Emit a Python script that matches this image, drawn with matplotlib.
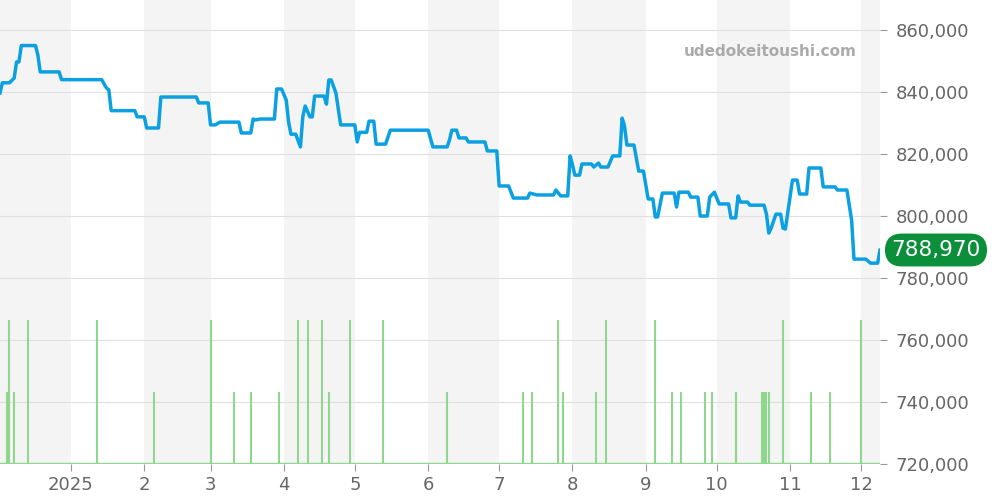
import matplotlib
matplotlib.use("Agg")
import matplotlib.pyplot as plt
import numpy as np
import datetime as dt

start = dt.date(2024, 12, 2)
price_days = [0,1,4,6,7,8,9,15,16,17,25,26,43,45,46,47,57,58,61,62,67,68,83,84,88,89,91,93,101,102,106,107,108,110,116,117,119,121,122,123,125,127,128,129,131,132,133,137,138,139,140,142,144,150,151,152,155,156,158,159,163,165,181,183,189,190,191,193,194,197,198,205,206,210,211,215,217,223,224,227,234,235,237,240,241,242,243,245,246,250,251,253,254,257,259,262,263,264,265,268,270,272,274,276,277,278,280,285,286,287,291,292,295,296,299,300,302,304,308,309,311,312,313,316,317,323,324,325,326,328,330,331,332,335,337,338,341,342,347,348,353,354,358,360,361,366,368,371,372]
price_vals = [839.7,843,843,844.5,849.7,849.7,855,855,852,846.5,846.5,844,844,841.3,840.7,834,834,832,832,828.4,828.4,838.4,838.4,836.5,836.5,829.4,829.4,830.3,830.3,826.8,826.8,831.3,831,831.3,831.3,841,841,837.4,830.3,826.4,826.4,822.3,832,835.5,832,832,838.7,838.7,836.1,843.9,843.9,839.7,829.4,829.4,823.9,827,827,830.6,830.6,823.2,823.2,827.7,827.7,822.3,822.3,824.5,827.7,827.7,825.2,825.2,823.9,823.9,821,821,809.7,809.7,805.8,805.8,807.4,806.8,806.8,808.4,806.5,806.5,819.4,816.5,813.2,813.2,816.8,816.8,815.8,817.1,815.8,815.8,819.4,819.4,831.6,829,822.9,822.9,814.5,814.5,805.5,805.5,799.7,799.7,807.4,807.4,802.9,807.7,807.7,806.1,806.1,800,800,806.1,807.7,803.9,803.9,799.4,799.4,806.5,804.5,804.5,803.5,803.5,800.6,794.5,796.1,800.6,800.6,796.1,795.8,811.6,811.6,807.1,807.1,815.5,815.5,809.4,809.4,808.4,808.4,798.7,786.1,786.1,784.8,784.8,788.97]
vol_days_2 = [4,12,41,89,126,130,136,148,162,236,256,277,331,364]
vol_days_1 = [3,6,65,99,106,118,139,189,221,225,238,252,284,288,298,301,311,322,323,324,325,343,351]
last_label = "788,970"

fig = plt.figure(figsize=(10,5), dpi=100)
ax = fig.add_axes([0, 0.072, 0.88, 0.928])
d = lambda n: start + dt.timedelta(days=n)
xmin, xmax = dt.date(2024,12,2), dt.date(2025,12,9)

for m0, m1 in [((2024,11,1),(2025,1,1)),((2025,2,1),(2025,3,1)),((2025,4,1),(2025,5,1)),((2025,6,1),(2025,7,1)),((2025,8,1),(2025,9,1)),((2025,10,1),(2025,11,1)),((2025,12,1),(2026,1,1))]:
    ax.axvspan(dt.date(*m0), dt.date(*m1), color="#f4f4f4", zorder=0, lw=0)
ax.set_xlim(xmin, xmax)
ax.set_ylim(720000, 869700)
ax.grid(axis="y", color="#e0e0e0", lw=0.8, zorder=1)
ax.set_axisbelow(True)

ax2 = ax.twinx()
ax2.set_ylim(0, 6.44)
ax2.axis("off")
ax2.vlines([d(n) for n in vol_days_2], 0, 2, color="#8fd68f", lw=1.5, zorder=2)
ax2.vlines([d(n) for n in vol_days_1], 0, 1, color="#8fd68f", lw=1.5, zorder=2)
ax2.axhline(0.01, color="#8fd68f", lw=1)

ax3 = ax.twinx()
ax3.set_ylim(ax.get_ylim()); ax3.axis("off")
ax3.plot([d(n) for n in price_days], [v*1000 for v in price_vals], color="#0ba0e2", lw=2.5, zorder=5)
ax3.set_xlim(xmin, xmax)

ax.yaxis.tick_right()
ax.set_yticks(np.arange(720000, 860001, 20000))
ax.yaxis.set_major_formatter(matplotlib.ticker.FuncFormatter(lambda v, p: f"{int(v):,}"))
ticks = [dt.date(2025,m,1) for m in range(1,13)]
ax.set_xticks(ticks)
ax.set_xticklabels(["2025"]+[str(m) for m in range(2,13)])
ax.tick_params(axis="both", colors="#666666", labelsize=13, length=5, color="#999999")
ax.tick_params(axis="y", pad=6)
for s in ax.spines.values(): s.set_visible(False)

ax.text(0.974, 0.888, "udedokeitoushi.com", transform=ax.transAxes, ha="right", va="center",
        fontsize=11, fontweight="bold", color="#aaaaaa")

fig.text(0.936, 0.5, last_label, ha="center", va="center", fontsize=15.5, color="white",
         bbox=dict(boxstyle="round,pad=0.3,rounding_size=0.8", fc="#0b8f3a", ec="none"))

fig.savefig("out.png")
